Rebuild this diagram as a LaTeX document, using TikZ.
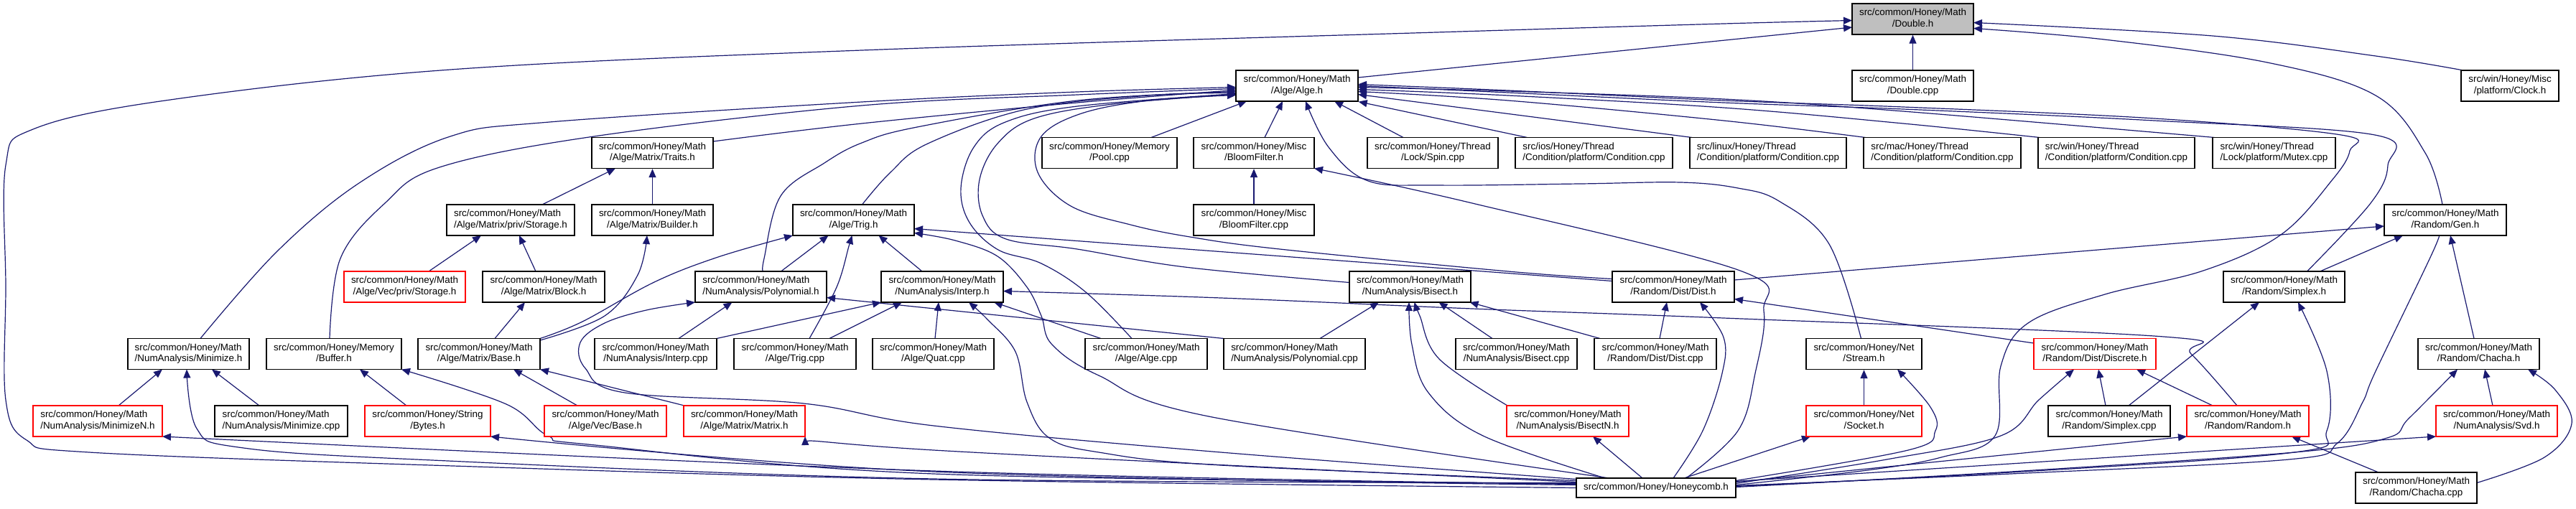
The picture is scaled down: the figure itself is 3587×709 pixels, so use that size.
\documentclass[tikz,border=0pt]{standalone}
\usepackage{fontspec}
\newfontfamily\lsans{Liberation Sans}
\usetikzlibrary{arrows.meta,calc}
\definecolor{edgecol}{HTML}{191970}
\definecolor{nodegray}{HTML}{BFBFBF}
\definecolor{nodered}{HTML}{FF0000}
\newcommand{\twol}[2]{\begin{tabular}{@{}l@{}}#1\\\multicolumn{1}{@{}c@{}}{#2}\end{tabular}}
\newcommand{\gn}[7]{\node[box,#1,minimum width=#5pt] (#2) at (#3,#4) {\twol{#6}{#7}};}
\pgfdeclarelayer{bg}
\pgfsetlayers{bg,main}
\tikzset{
  box/.style={draw=black, line width=1.3pt, fill=white, inner sep=0pt, minimum height=43pt,
    font=\lsans\fontsize{13.4}{15.7}\selectfont},
  redbox/.style={draw=nodered},
  graybox/.style={fill=nodegray},
  plain/.style={},
  edg/.style={draw=edgecol, line width=1.2pt, -{Triangle[length=12pt,width=10pt]}},
}
\begin{document}
\begin{tikzpicture}[x=1pt,y=-1pt]
\useasboundingbox (0,0) rectangle (3587,709);
% row 0
\gn{graybox}{dbl}{2663.5}{26.5}{169}{src/common/Honey/Math}{/Double.h}
% row 1
\gn{plain}{alge}{1806}{119.5}{170}{src/common/Honey/Math}{/Alge/Alge.h}
\gn{plain}{dblcpp}{2663.5}{119.5}{169}{src/common/Honey/Math}{/Double.cpp}
\gn{plain}{clock}{3495}{119.5}{136}{src/win/Honey/Misc}{/platform/Clock.h}
% row 2
\gn{plain}{traits}{908.5}{213}{169}{src/common/Honey/Math}{/Alge/Matrix/Traits.h}
\gn{plain}{pool}{1545}{213}{188}{src/common/Honey/Memory}{/Pool.cpp}
\gn{plain}{bloomh}{1746}{213}{168}{src/common/Honey/Misc}{/BloomFilter.h}
\gn{plain}{spin}{1995}{213}{182}{src/common/Honey/Thread}{/Lock/Spin.cpp}
\gn{plain}{ios}{2219.5}{213}{219}{src/ios/Honey/Thread}{/Condition/platform/Condition.cpp}
\gn{plain}{linux}{2462}{213}{218}{src/linux/Honey/Thread}{/Condition/platform/Condition.cpp}
\gn{plain}{mac}{2704.5}{213}{219}{src/mac/Honey/Thread}{/Condition/platform/Condition.cpp}
\gn{plain}{winc}{2947}{213}{218}{src/win/Honey/Thread}{/Condition/platform/Condition.cpp}
\gn{plain}{mutex}{3166.5}{213}{171}{src/win/Honey/Thread}{/Lock/platform/Mutex.cpp}
% row 3
\gn{plain}{mstorage}{711}{306.5}{178}{src/common/Honey/Math}{/Alge/Matrix/priv/Storage.h}
\gn{plain}{builder}{908.5}{306.5}{169}{src/common/Honey/Math}{/Alge/Matrix/Builder.h}
\gn{plain}{trig}{1188.5}{306.5}{169}{src/common/Honey/Math}{/Alge/Trig.h}
\gn{plain}{bloomcpp}{1746}{306.5}{168}{src/common/Honey/Misc}{/BloomFilter.cpp}
\gn{plain}{gen}{3405}{306.5}{170}{src/common/Honey/Math}{/Random/Gen.h}
% row 4
\gn{redbox}{vstorage}{563.5}{399.5}{169}{src/common/Honey/Math}{/Alge/Vec/priv/Storage.h}
\gn{plain}{block}{757}{399.5}{170}{src/common/Honey/Math}{/Alge/Matrix/Block.h}
\gn{plain}{polyh}{1059.5}{399.5}{183}{src/common/Honey/Math}{/NumAnalysis/Polynomial.h}
\gn{plain}{interph}{1312}{399.5}{170}{src/common/Honey/Math}{/NumAnalysis/Interp.h}
\gn{plain}{bisecth}{1963.5}{399.5}{169}{src/common/Honey/Math}{/NumAnalysis/Bisect.h}
\gn{plain}{disth}{2330}{399.5}{170}{src/common/Honey/Math}{/Random/Dist/Dist.h}
\gn{plain}{simplexh}{3180.5}{399.5}{169}{src/common/Honey/Math}{/Random/Simplex.h}
% row 5
\gn{plain}{minimize}{262.5}{493}{169}{src/common/Honey/Math}{/NumAnalysis/Minimize.h}
\gn{plain}{buffer}{465}{493}{188}{src/common/Honey/Memory}{/Buffer.h}
\gn{plain}{base}{667}{493}{170}{src/common/Honey/Math}{/Alge/Matrix/Base.h}
\gn{plain}{interpcpp}{913}{493}{170}{src/common/Honey/Math}{/NumAnalysis/Interp.cpp}
\gn{plain}{trigcpp}{1107}{493}{170}{src/common/Honey/Math}{/Alge/Trig.cpp}
\gn{plain}{quat}{1299.5}{493}{169}{src/common/Honey/Math}{/Alge/Quat.cpp}
\gn{plain}{algecpp}{1596}{493}{170}{src/common/Honey/Math}{/Alge/Alge.cpp}
\gn{plain}{polycpp}{1802.5}{493}{197}{src/common/Honey/Math}{/NumAnalysis/Polynomial.cpp}
\gn{plain}{bisectcpp}{2111.5}{493}{169}{src/common/Honey/Math}{/NumAnalysis/Bisect.cpp}
\gn{plain}{distcpp}{2305}{493}{170}{src/common/Honey/Math}{/Random/Dist/Dist.cpp}
\gn{plain}{stream}{2595.5}{493}{161}{src/common/Honey/Net}{/Stream.h}
\gn{redbox}{discrete}{2917}{493}{170}{src/common/Honey/Math}{/Random/Dist/Discrete.h}
\gn{plain}{chacha}{3451.5}{493}{169}{src/common/Honey/Math}{/Random/Chacha.h}
% row 6
\gn{redbox}{minimizeN}{136}{586.5}{180}{src/common/Honey/Math}{/NumAnalysis/MinimizeN.h}
\gn{plain}{minimizecpp}{391.5}{586.5}{185}{src/common/Honey/Math}{/NumAnalysis/Minimize.cpp}
\gn{redbox}{bytes}{595.5}{586.5}{175}{src/common/Honey/String}{/Bytes.h}
\gn{redbox}{vbase}{843}{586.5}{170}{src/common/Honey/Math}{/Alge/Vec/Base.h}
\gn{redbox}{matrix}{1036.5}{586.5}{169}{src/common/Honey/Math}{/Alge/Matrix/Matrix.h}
\gn{redbox}{bisectN}{2183}{586.5}{170}{src/common/Honey/Math}{/NumAnalysis/BisectN.h}
\gn{redbox}{socket}{2595.5}{586.5}{161}{src/common/Honey/Net}{/Socket.h}
\gn{plain}{simplexcpp}{2937}{586.5}{170}{src/common/Honey/Math}{/Random/Simplex.cpp}
\gn{redbox}{random}{3130}{586.5}{170}{src/common/Honey/Math}{/Random/Random.h}
\gn{redbox}{svd}{3476.5}{586.5}{169}{src/common/Honey/Math}{/NumAnalysis/Svd.h}
% row 7
\node[box,minimum width=222pt,minimum height=27pt] (hc) at (2306,679.5) {src/common/Honey/Honeycomb.h};
\gn{plain}{chachacpp}{3364.5}{679.5}{169}{src/common/Honey/Math}{/Random/Chacha.cpp}

\begin{pgfonlayer}{bg}
\fill[white] (0,0) rectangle (3587,709);
% Double.h
\draw[edg] ($(alge)+(85,-11.5)$) -- ($(dbl)+(-84.5,11.5)$);
\draw[edg] plot[smooth,tension=0.6] coordinates {($(hc)+(-111,0)$) (1300,668) (600,648) (124,630) (37,613) (8,557) (8,400) (8,230) (46,180) (230,140) (627,97) (1200,70) (2000,45) (2400,33) ($(dbl)+(-84.5,2)$)};
\draw[edg] (dblcpp.north) -- (dbl.south);
\draw[edg] plot[smooth,tension=0.6] coordinates {($(clock)+(-65,-21.5)$) (3308,78) (3081,50) ($(dbl)+(84.5,5)$)};
\draw[edg] plot[smooth,tension=0.6] coordinates {($(gen)+(-4,-21.5)$) (3377,213) (3308,133) (3157,87) (2930,55) ($(dbl)+(84.5,13)$)};
% Alge.h
\draw[edg] ($(pool)+(58,-21.5)$) -- ($(alge)+(-70,21.5)$);
\draw[edg] ($(bloomh)+(15,-21.5)$) -- ($(alge)+(-20,21.5)$);
\draw[edg] plot[smooth,tension=0.6] coordinates {($(stream)+(-4,-21.5)$) (2547,340) (2477,280) (2420,262) (2340,254) (2200,256) (2000,258) (1905,252) (1850,205) ($(alge)+(12,21.5)$)};
\draw[edg] ($(spin)+(-41,-21.5)$) -- ($(alge)+(52,21.5)$);
\draw[edg] ($(ios)+(-93,-21.5)$) -- (alge.south east);
\draw[edg] ($(linux)+(-106,-21.5)$) -- ($(alge)+(85,12)$);
\draw[edg] plot[smooth,tension=0.6] coordinates {($(mac)+(-107,-21.5)$) (2400,168) (2100,140) ($(alge)+(85,8)$)};
\draw[edg] plot[smooth,tension=0.6] coordinates {($(winc)+(-107,-21.5)$) (2650,172) (2400,150) (2100,133) ($(alge)+(85,5)$)};
\draw[edg] plot[smooth,tension=0.6] coordinates {($(mutex)+(-83,-21.5)$) (2650,155) (2400,138) (2100,127) ($(alge)+(85,2)$)};
\draw[edg] plot[smooth,tension=0.6] coordinates {($(simplexh)+(32,-21.5)$) (3301,283) (3325,230) (3307,188) (3000,168) (2650,152) (2400,143) (2100,129) ($(alge)+(85,0)$)};
\draw[edg] plot[smooth,tension=0.6] coordinates {($(hc)+(111,-4)$) (2600,655) (2703,637) (2778,607) (2786,510) (2824,450) (2931,410) (3068,377) (3176,327) (3248,250) (3272,210) (3260,188) (3000,165) (2650,149) (2400,140) (2100,126) ($(alge)+(85,-2)$)};
\draw[edg] plot[smooth,tension=0.6] coordinates {($(traits)+(84.5,-16)$) (1200,172) (1500,143) ($(alge)+(-85,6)$)};
\draw[edg] plot[smooth,tension=0.6] coordinates {($(minimize)+(16.5,-21.5)$) (386,350) (500,255) (627,190) (765,170) (1200,142) (1500,128) ($(alge)+(-85,2)$)};
\draw[edg] plot[smooth,tension=0.6] coordinates {($(buffer)+(-6,-21.5)$) (474,360) (536,283) (612,233) (827,190) (1200,147) (1500,132) ($(alge)+(-85,4)$)};
\draw[edg] plot[smooth,tension=0.6] coordinates {($(polyh)+(3,-21.5)$) (1064,360) (1087,273) (1148,227) (1200,199) (1277,177) (1500,140) ($(alge)+(-85,8)$)};
\draw[edg] plot[smooth,tension=0.6] coordinates {($(trig)+(12,-21.5)$) (1240,240) (1292,200) (1430,152) (1600,133) ($(alge)+(-85,10)$)};
\draw[edg] plot[smooth,tension=0.6] coordinates {($(algecpp)+(-20,-21.5)$) (1512,407) (1450,367) (1390,348) (1350,310) (1338,262) (1356,205) (1400,170) (1500,148) ($(alge)+(-85,11)$)};
\draw[edg] plot[smooth,tension=0.6] coordinates {($(bisecth)+(-84.5,-6)$) (1650,372) (1500,347) (1401,333) (1368,300) (1364,250) (1389,200) (1440,165) (1550,145) ($(alge)+(-85,12)$)};
\draw[edg] plot[smooth,tension=0.6] coordinates {($(disth)+(-85,-11)$) (2100,378) (1782,347) (1657,330) (1574,313) (1491,287) (1445,240) (1450,190) (1506,158) (1600,140) ($(alge)+(-85,13)$)};
% Trig.h
\draw[edg] ($(disth)+(-85,-8)$) -- ($(trig)+(84.5,12)$);
\draw[edg] ($(polyh)+(28,-21.5)$) -- ($(trig)+(-35,21.5)$);
\draw[edg] ($(interph)+(-28,-21.5)$) -- ($(trig)+(35,21.5)$);
\draw[edg] plot[smooth,tension=0.6] coordinates {($(base)+(85,-21.5)$) (811,448) (911,393) (1000,358) ($(trig)+(-84.5,21.5)$)};
\draw[edg] plot[smooth,tension=0.6] coordinates {($(trigcpp)+(20,-21.5)$) (1165,400) (1182,343) ($(trig)+(-2,21.5)$)};
\draw[edg] plot[smooth,tension=0.6] coordinates {($(hc)+(-65,-13.5)$) (1683,580) (1530,523) (1465,480) (1450,440) (1430,400) (1389,357) (1330,335) ($(trig)+(84.5,18)$)};
% Interp.h
\draw[edg] ($(trigcpp)+(48,-21.5)$) -- ($(interph)+(-56,21.5)$);
\draw[edg] ($(interpcpp)+(85,-21.5)$) -- ($(interph)+(-85,21.5)$);
\draw[edg] ($(quat)+(2.5,-21.5)$) -- ($(interph)+(-5,21.5)$);
\draw[edg] ($(algecpp)+(-63,-21.5)$) -- ($(interph)+(72,21.5)$);
\draw[edg] plot[smooth,tension=0.6] coordinates {($(hc)+(-111,-10)$) (1700,648) (1530,630) (1461,610) (1430,560) (1414,490) (1375,445) ($(interph)+(37,21.5)$)};
\draw[edg] plot[smooth,tension=0.6] coordinates {($(random)+(-15,-21.5)$) (3051,493) (3013,469) (2400,443) (2050,430) (1700,415) ($(interph)+(85,6)$)};
% Polynomial.h
\draw[edg] ($(interpcpp)+(32,-21.5)$) -- ($(polyh)+(-40,21.5)$);
\draw[edg] ($(polycpp)+(-98.5,-21.5)$) -- ($(polyh)+(91.5,15)$);
\draw[edg] plot[smooth,tension=0.6] coordinates {($(hc)+(-111,-12)$) (1700,630) (1300,593) (1119,562) (870,547) (815,513) (808,477) (842,450) (900,432) ($(polyh)+(-91.5,21.5)$)};
% Bisect.h
\draw[edg] ($(polycpp)+(35.5,-21.5)$) -- ($(bisecth)+(-43.5,21.5)$);
\draw[edg] plot[smooth,tension=0.6] coordinates {($(hc)+(-71,-13.5)$) (2065,607) (1989,547) (1966,480) ($(bisecth)+(-1.5,21.5)$)};
\draw[edg] plot[smooth,tension=0.6] coordinates {($(bisectN)+(-84,-21.5)$) (2004,500) (1977,440) ($(bisecth)+(6,21.5)$)};
\draw[edg] ($(bisectcpp)+(-33.5,-21.5)$) -- ($(bisecth)+(40,21.5)$);
\draw[edg] ($(distcpp)+(-77,-21.5)$) -- ($(bisecth)+(83,21.5)$);
\draw[edg] ($(hc)+(-19,-13.5)$) -- ($(bisectN)+(35,21.5)$);
% Dist.h
\draw[edg] ($(distcpp)+(6,-21.5)$) -- ($(disth)+(-9,21.5)$);
\draw[edg] plot[smooth,tension=0.6] coordinates {($(hc)+(24,-13.5)$) (2371,600) (2398,520) (2400,470) ($(disth)+(37,21.5)$)};
\draw[edg] ($(discrete)+(-85,-15)$) -- ($(disth)+(85,17)$);
% Gen.h
\draw[edg] ($(disth)+(85,-9.5)$) -- ($(gen)+(-85,8.5)$);
\draw[edg] ($(simplexh)+(50,-21.5)$) -- ($(gen)+(-59,21.5)$);
\draw[edg] plot[smooth,tension=0.6] coordinates {($(hc)+(111,-3)$) (2800,660) (3187,640) (3255,617) (3290,560) (3308,517) (3388,350) ($(gen)+(-11,21.5)$)};
\draw[edg] ($(chacha)+(-6.5,-21.5)$) -- ($(gen)+(7,21.5)$);
% Simplex.h
\draw[edg] ($(simplexcpp)+(27,-21.5)$) -- ($(simplexh)+(-34.5,21.5)$);
\draw[edg] plot[smooth,tension=0.6] coordinates {($(hc)+(111,-2)$) (2800,658) (3195,630) (3240,600) (3240,517) ($(simplexh)+(19.5,21.5)$)};
% Discrete.h
\draw[edg] plot[smooth,tension=0.6] coordinates {($(hc)+(111,-6)$) (2627,640) (2786,607) (2839,557) ($(discrete)+(-29,21.5)$)};
\draw[edg] ($(simplexcpp)+(-5,-21.5)$) -- ($(discrete)+(5,21.5)$);
\draw[edg] ($(random)+(-49,-21.5)$) -- ($(discrete)+(58,21.5)$);
% Random.h
\draw[edg] ($(hc)+(111,-8)$) -- ($(random)+(-85,21.5)$);
\draw[edg] ($(chachacpp)+(-52.5,-21.5)$) -- ($(random)+(61,21.5)$);
% Chacha.h
\draw[edg] plot[smooth,tension=0.6] coordinates {($(hc)+(111,-1)$) (2800,657) (3195,630) (3324,610) (3354,583) ($(chacha)+(-29.5,21.5)$)};
\draw[edg] ($(svd)+(-5.5,-21.5)$) -- ($(chacha)+(8.5,21.5)$);
\draw[edg] plot[smooth,tension=0.6] coordinates {($(chachacpp)+(84.5,-7)$) (3543,637) (3581,590) (3558,543) ($(chacha)+(68.5,21.5)$)};
\draw[edg] ($(hc)+(111,-9)$) -- ($(svd)+(-84.5,21.5)$);
% Stream / Socket
\draw[edg] (socket.north) -- (stream.south);
\draw[edg] plot[smooth,tension=0.6] coordinates {($(hc)+(111,-10)$) (2657,627) (2695,600) (2688,567) ($(stream)+(46.5,21.5)$)};
\draw[edg] ($(hc)+(39,-13.5)$) -- ($(socket)+(-74.5,21.5)$);
% BloomFilter
\draw[edg] (bloomcpp.north) -- (bloomh.south);
\draw[edg] plot[smooth,tension=0.6] coordinates {($(hc)+(42,-13.5)$) (2420,600) (2444,520) (2456,433) (2423,377) (2050,283) ($(bloomh)+(84,21.5)$)};
% Matrix
\draw[edg] (builder.north) -- (traits.south);
\draw[edg] ($(mstorage)+(44,-21.5)$) -- ($(traits)+(-51.5,21.5)$);
\draw[edg] ($(vstorage)+(33.5,-21.5)$) -- ($(mstorage)+(-41,21.5)$);
\draw[edg] ($(block)+(-11,-21.5)$) -- ($(mstorage)+(12,21.5)$);
\draw[edg] ($(base)+(22,-21.5)$) -- ($(block)+(-26,21.5)$);
\draw[edg] plot[smooth,tension=0.6] coordinates {($(base)+(85,-19)$) (842,440) (888,383) ($(builder)+(-7.5,21.5)$)};
\draw[edg] ($(vbase)+(-39,-21.5)$) -- ($(base)+(48,21.5)$);
\draw[edg] ($(matrix)+(-83.5,-21.5)$) -- ($(base)+(85,21.5)$);
% Minimize / Buffer
\draw[edg] ($(minimizeN)+(29,-21.5)$) -- ($(minimize)+(-36.5,21.5)$);
\draw[edg] ($(minimizecpp)+(-30.5,-21.5)$) -- ($(minimize)+(32.5,21.5)$);
\draw[edg] plot[smooth,tension=0.6] coordinates {($(hc)+(-111,-7)$) (1300,667) (580,640) (332,623) (274,597) ($(minimize)+(-2.5,21.5)$)};
\draw[edg] plot[smooth,tension=0.6] coordinates {($(hc)+(-111,-5)$) (1300,656) ($(minimizeN)+(90,21.5)$)};
\draw[edg] plot[smooth,tension=0.6] coordinates {($(hc)+(-111,-6)$) (1300,660) (829,620) (763,607) (705,563) ($(buffer)+(94,21.5)$)};
\draw[edg] ($(bytes)+(-29.5,-21.5)$) -- ($(buffer)+(36,21.5)$);
\draw[edg] plot[smooth,tension=0.6] coordinates {($(hc)+(-111,-4)$) (1300,657) ($(bytes)+(87.5,21.5)$)};
\draw[edg] plot[smooth,tension=0.6] coordinates {($(hc)+(-111,-8)$) (1300,627) ($(matrix)+(84.5,21.5)$)};
\end{pgfonlayer}
\end{tikzpicture}
\end{document}
